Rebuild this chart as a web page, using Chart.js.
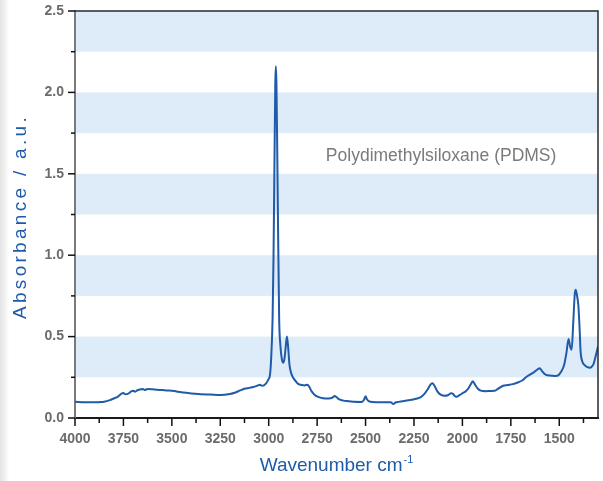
<!DOCTYPE html>
<html>
<head>
<meta charset="utf-8">
<script src="https://cdn.jsdelivr.net/npm/chart.js@4.4.1/dist/chart.umd.min.js"></script>
<style>
  html, body { margin: 0; padding: 0; }
  body { width: 603px; height: 481px; background: linear-gradient(to right, #e4e4e4 0px, #f1f1f1 5px, #fff 9px); }
  canvas { display: block; }
</style>
</head>
<body>
<canvas id="chart" width="603" height="481"></canvas>
<script>
// Spectrum
const wavenumbers = [
  4000, 3950, 3900, 3870, 3850, 3820, 3800, 3780, 3760, 3750, 3740, 3725, 3710, 3700, 3690, 3675,
  3660, 3650, 3640, 3625, 3600, 3575, 3550, 3525, 3500, 3450, 3400, 3350, 3300, 3250, 3200, 3175,
  3150, 3125, 3100, 3080, 3060, 3045, 3035, 3025, 3012, 3000, 2994, 2988, 2980, 2975, 2970, 2966,
  2963, 2960, 2956, 2952, 2946, 2940, 2932, 2925, 2918, 2912, 2906, 2900, 2893, 2885, 2875, 2860,
  2848, 2830, 2815, 2800, 2790, 2779, 2765, 2745, 2720, 2690, 2670, 2660, 2650, 2635, 2600, 2560,
  2520, 2508, 2500, 2493, 2480, 2440, 2400, 2370, 2357, 2345, 2330, 2300, 2270, 2240, 2215, 2195,
  2180, 2165, 2155, 2145, 2130, 2115, 2095, 2075, 2058, 2050, 2040, 2030, 2015, 2000, 1985, 1970,
  1955, 1946, 1935, 1920, 1905, 1880, 1855, 1833, 1815, 1790, 1765, 1740, 1715, 1690, 1670, 1653,
  1630, 1610, 1601, 1590, 1575, 1560, 1540, 1520, 1505, 1490, 1475, 1463, 1452, 1444, 1436, 1428,
  1420, 1415, 1408, 1401, 1395, 1390, 1382, 1369, 1355, 1340, 1330, 1322, 1310, 1300
];
const absorbance = [
  0.100, 0.097, 0.096, 0.098, 0.100, 0.110, 0.120, 0.130, 0.150, 0.154, 0.146, 0.150, 0.163, 0.168, 0.162, 0.172,
  0.176, 0.178, 0.172, 0.178, 0.176, 0.173, 0.172, 0.169, 0.167, 0.158, 0.150, 0.146, 0.144, 0.142, 0.148, 0.155,
  0.168, 0.180, 0.185, 0.190, 0.198, 0.205, 0.198, 0.200, 0.215, 0.240, 0.260, 0.350, 0.610, 1.000, 1.600, 2.050,
  2.160, 2.050, 1.650, 1.200, 0.610, 0.450, 0.360, 0.340, 0.370, 0.440, 0.500, 0.440, 0.330, 0.280, 0.250, 0.225,
  0.210, 0.203, 0.200, 0.205, 0.190, 0.165, 0.145, 0.130, 0.122, 0.120, 0.126, 0.135, 0.128, 0.114, 0.104, 0.100,
  0.099, 0.112, 0.134, 0.115, 0.101, 0.097, 0.096, 0.097, 0.086, 0.095, 0.099, 0.105, 0.110, 0.118, 0.128, 0.150,
  0.175, 0.205, 0.214, 0.200, 0.165, 0.145, 0.137, 0.140, 0.152, 0.150, 0.135, 0.130, 0.140, 0.152, 0.162, 0.180,
  0.210, 0.226, 0.205, 0.180, 0.168, 0.165, 0.166, 0.167, 0.180, 0.198, 0.203, 0.208, 0.218, 0.232, 0.252, 0.265,
  0.282, 0.300, 0.305, 0.290, 0.270, 0.262, 0.260, 0.258, 0.262, 0.285, 0.325, 0.400, 0.486, 0.440, 0.420, 0.580,
  0.760, 0.788, 0.750, 0.685, 0.550, 0.410, 0.350, 0.325, 0.312, 0.309, 0.318, 0.335, 0.390, 0.440
];

// Axes
const xTickValues = [4000, 3750, 3500, 3250, 3000, 2750, 2500, 2250, 2000, 1750, 1500];
const xMinorTicks = [3875, 3625, 3375, 3125, 2875, 2625, 2375, 2125, 1875, 1625, 1375];
const yTickValues = [0, 0.5, 1.0, 1.5, 2.0, 2.5];
const yMinorTicks = [0.25, 0.75, 1.25, 1.75, 2.25];
const shadedBands = [[0.25, 0.5], [0.75, 1.0], [1.25, 1.5], [1.75, 2.0], [2.25, 2.5]];

const sampleName = 'Polydimethylsiloxane (PDMS)';
const xTitle = 'Wavenumber cm';
const xTitleSup = '-1';
const yTitle = 'Absorbance / a.u.';

const BLUE = '#1f5ba8';
const FONT = '"Liberation Sans", Arial, Helvetica, sans-serif';

const decor = {
  id: 'decor',
  beforeDraw(chart) {
    const { ctx, chartArea: a, scales: { y } } = chart;
    ctx.save();
    ctx.fillStyle = '#deebf8';
    shadedBands.forEach(([lo, hi]) => {
      const top = y.getPixelForValue(hi), bot = y.getPixelForValue(lo);
      ctx.fillRect(a.left, top, a.right - a.left, bot - top);
    });
    ctx.restore();
  },
  afterDraw(chart) {
    const { ctx, chartArea: a, scales: { x, y } } = chart;
    ctx.save();

    // frame top / right
    ctx.strokeStyle = '#2a2a2a';
    ctx.lineWidth = 1.5;
    ctx.beginPath();
    ctx.moveTo(a.left, a.top);
    ctx.lineTo(a.right, a.top);
    ctx.lineTo(a.right, a.bottom);
    ctx.stroke();

    // tick marks
    ctx.strokeStyle = '#111';
    ctx.lineWidth = 1.5;
    const seg = (x1, y1, x2, y2) => { ctx.beginPath(); ctx.moveTo(x1, y1); ctx.lineTo(x2, y2); ctx.stroke(); };
    xTickValues.forEach(v => { const p = x.getPixelForValue(v); seg(p, a.bottom, p, a.bottom + 8); });
    xMinorTicks.forEach(v => { const p = x.getPixelForValue(v); seg(p, a.bottom, p, a.bottom + 5); });
    yTickValues.forEach(v => { const p = y.getPixelForValue(v); seg(a.left - 7, p, a.left, p); });
    yMinorTicks.forEach(v => { const p = y.getPixelForValue(v); seg(a.left - 4, p, a.left, p); });

    // sample label
    ctx.fillStyle = '#7a7a7a';
    ctx.font = '17.5px ' + FONT;
    ctx.textAlign = 'center';
    ctx.textBaseline = 'alphabetic';
    ctx.fillText(sampleName, x.getPixelForValue(2110), y.getPixelForValue(1.58));

    // x title with superscript
    ctx.fillStyle = BLUE;
    ctx.textAlign = 'left';
    ctx.font = '19px ' + FONT;
    const w1 = ctx.measureText(xTitle).width;
    ctx.font = '11px ' + FONT;
    const w2 = ctx.measureText(xTitleSup).width;
    const cx = (a.left + a.right) / 2;
    const x0 = cx - (w1 + w2 + 1) / 2;
    ctx.font = '19px ' + FONT;
    ctx.fillText(xTitle, x0, 471);
    ctx.font = '11px ' + FONT;
    ctx.fillText(xTitleSup, x0 + w1 + 1, 463);

    // y title
    ctx.save();
    ctx.translate(26, 216.5);
    ctx.rotate(-Math.PI / 2);
    ctx.font = '19px ' + FONT;
    ctx.letterSpacing = '3.3px';
    ctx.textAlign = 'center';
    ctx.fillText(yTitle, 0, 0);
    ctx.restore();

    ctx.restore();
  }
};

new Chart(document.getElementById('chart'), {
  type: 'line',
  data: {
    datasets: [{
      data: wavenumbers.map((w, i) => ({ x: w, y: absorbance[i] })),
      borderColor: BLUE,
      borderWidth: 2,
      pointRadius: 0,
      cubicInterpolationMode: 'monotone',
      fill: false
    }]
  },
  options: {
    responsive: false,
    animation: false,
    devicePixelRatio: 1,
    layout: { padding: { left: 0, right: 5, top: 11, bottom: 0 } },
    plugins: { legend: { display: false }, tooltip: { enabled: false } },
    scales: {
      x: {
        type: 'linear',
        reverse: true,
        min: 1300,
        max: 4000,
        afterFit: s => { s.height = 63; s.paddingLeft = 0; s.paddingRight = 0; },
        afterBuildTicks: s => { s.ticks = xTickValues.map(v => ({ value: v })); },
        grid: { display: false, drawTicks: false, tickLength: 0 },
        border: { display: true, color: '#1a1a1a', width: 2 },
        ticks: {
          autoSkip: false, maxRotation: 0, padding: 13,
          color: '#6b6b6b',
          font: { family: FONT, size: 14, weight: 'bold' },
          callback: v => String(v)
        }
      },
      y: {
        min: 0,
        max: 2.5,
        afterFit: s => { s.width = 75; s.paddingTop = 0; s.paddingBottom = 0; },
        afterBuildTicks: s => { s.ticks = yTickValues.map(v => ({ value: v })); },
        grid: { display: false, drawTicks: false, tickLength: 0 },
        border: { display: true, color: '#7a7a7a', width: 2 },
        ticks: {
          padding: 11,
          color: '#6b6b6b',
          font: { family: FONT, size: 14, weight: 'bold' },
          callback: v => Number(v).toFixed(1)
        }
      }
    }
  },
  plugins: [decor]
});
</script>
</body>
</html>
